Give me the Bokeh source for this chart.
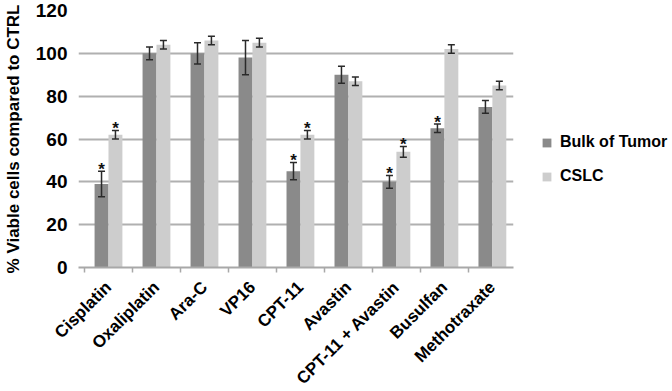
import math
from bokeh.plotting import figure
from bokeh.models import (ColumnDataSource, Whisker, TeeHead, FixedTicker, Legend,
                          LegendItem, Label, Range1d)
from bokeh.core.properties import value
from bokeh.embed import file_html
from bokeh.resources import INLINE

categories = ["Cisplatin", "Oxaliplatin", "Ara-C", "VP16", "CPT-11", "Avastin",
              "CPT-11 + Avastin", "Busulfan", "Methotraxate"]
bulk = [39, 100, 100, 98, 45, 90, 40, 65, 75]
bulk_err = [6, 3, 5, 8, 4, 4, 3, 2, 3]
cslc = [62, 104, 106, 105, 62, 87, 54, 102, 85]
cslc_err = [2, 2, 2, 2, 2, 2, 2.5, 2, 2]
bulk_star = [1, 0, 0, 0, 1, 0, 1, 1, 0]
cslc_star = [1, 0, 0, 0, 1, 0, 1, 0, 0]
y_ticks = [0, 20, 40, 60, 80, 100, 120]

DARK = "#8a8a8a"
LIGHT = "#cdcdcd"
FONT = "Liberation Sans"

n = len(categories)
centers = [i + 0.5 for i in range(n)]
off = 0.145
bw = 0.29

p = figure(width=656, height=389, frame_width=435, frame_height=257,
           output_backend="svg", toolbar_location=None,
           x_range=Range1d(-0.125, 8.94), y_range=Range1d(0, 120),
           min_border_left=70, min_border_right=151, min_border_top=10,
           min_border_bottom=122)
p.outline_line_color = None

src_b = ColumnDataSource(dict(x=[c - off for c in centers], top=bulk,
                              lo=[v - e for v, e in zip(bulk, bulk_err)],
                              hi=[v + e for v, e in zip(bulk, bulk_err)]))
src_c = ColumnDataSource(dict(x=[c + off for c in centers], top=cslc,
                              lo=[v - e for v, e in zip(cslc, cslc_err)],
                              hi=[v + e for v, e in zip(cslc, cslc_err)]))

rb = p.vbar(x="x", top="top", width=bw, source=src_b, fill_color=DARK, line_color=None)
rc = p.vbar(x="x", top="top", width=bw, source=src_c, fill_color=LIGHT, line_color=None)

for src in (src_b, src_c):
    w = Whisker(base="x", lower="lo", upper="hi", source=src, level="overlay",
                line_color="#2a2a2a", line_width=1.5,
                upper_head=TeeHead(size=7, line_color="#2a2a2a", line_width=1.5),
                lower_head=TeeHead(size=7, line_color="#2a2a2a", line_width=1.5))
    p.add_layout(w)

sx, sy = [], []
for i in range(n):
    if bulk_star[i]:
        sx.append(centers[i] - off); sy.append(bulk[i] + bulk_err[i] + 0.8)
    if cslc_star[i]:
        sx.append(centers[i] + off); sy.append(cslc[i] + cslc_err[i] + 0.8)
p.text(x=sx, y=sy, text=["*"] * len(sx), text_font=value(FONT),
       text_font_size="17px", text_font_style="bold", text_align="center",
       text_baseline="alphabetic", text_color="#111111")

# axes
yt = FixedTicker(ticks=y_ticks)
p.xgrid.grid_line_color = None
p.ygrid.ticker = yt
p.ygrid.grid_line_color = "#b0b0b0"
p.ygrid.grid_line_width = 1.8
p.yaxis.ticker = yt
p.yaxis.axis_line_color = None
p.yaxis.major_tick_line_color = None
p.yaxis.minor_tick_line_color = None
p.yaxis.major_label_text_font = FONT
p.yaxis.major_label_text_font_size = "19px"
p.yaxis.major_label_text_font_style = "bold"
p.yaxis.major_label_text_color = "black"
p.yaxis.major_label_standoff = 5
p.yaxis.axis_label = "% Viable cells compared to CTRL"
p.yaxis.axis_label_text_font = FONT
p.yaxis.axis_label_text_font_size = "17px"
p.yaxis.axis_label_text_font_style = "bold"
p.yaxis.axis_label_text_color = "black"
p.yaxis.axis_label_standoff = 10

p.xaxis.ticker = FixedTicker(ticks=centers, minor_ticks=list(range(0, n + 1)))
p.xaxis.major_label_overrides = {c: name for c, name in zip(centers, categories)}
p.xaxis.major_label_orientation = math.pi / 4
p.xaxis.major_label_text_font = FONT
p.xaxis.major_label_text_font_size = "17px"
p.xaxis.major_label_text_font_style = "bold"
p.xaxis.major_label_text_color = "black"
p.xaxis.major_label_standoff = 11
p.xaxis.major_tick_line_color = None
p.xaxis.axis_line_color = "#a8a8a8"
p.xaxis.axis_line_width = 2
p.xaxis.minor_tick_line_color = "#a8a8a8"
p.xaxis.minor_tick_line_width = 1.5
p.xaxis.minor_tick_out = 5
p.xaxis.minor_tick_in = 0

legend = Legend(items=[LegendItem(label="Bulk of Tumor", renderers=[rb]),
                       LegendItem(label="CSLC", renderers=[rc])],
                location=(28, 81), orientation="vertical",
                glyph_width=11, glyph_height=11, label_height=20, spacing=14,
                label_standoff=8, padding=0, margin=0,
                border_line_color=None, background_fill_alpha=0,
                label_text_font=FONT, label_text_font_size="16px",
                label_text_font_style="bold", label_text_color="black")
p.add_layout(legend, "right")

note = Label(x=2, y=356, x_units="canvas", y_units="canvas", text="n=5",
             text_font=FONT, text_font_size="16px", text_color="black")
p.add_layout(note)

open("out.html", "w").write(file_html(p, INLINE))
